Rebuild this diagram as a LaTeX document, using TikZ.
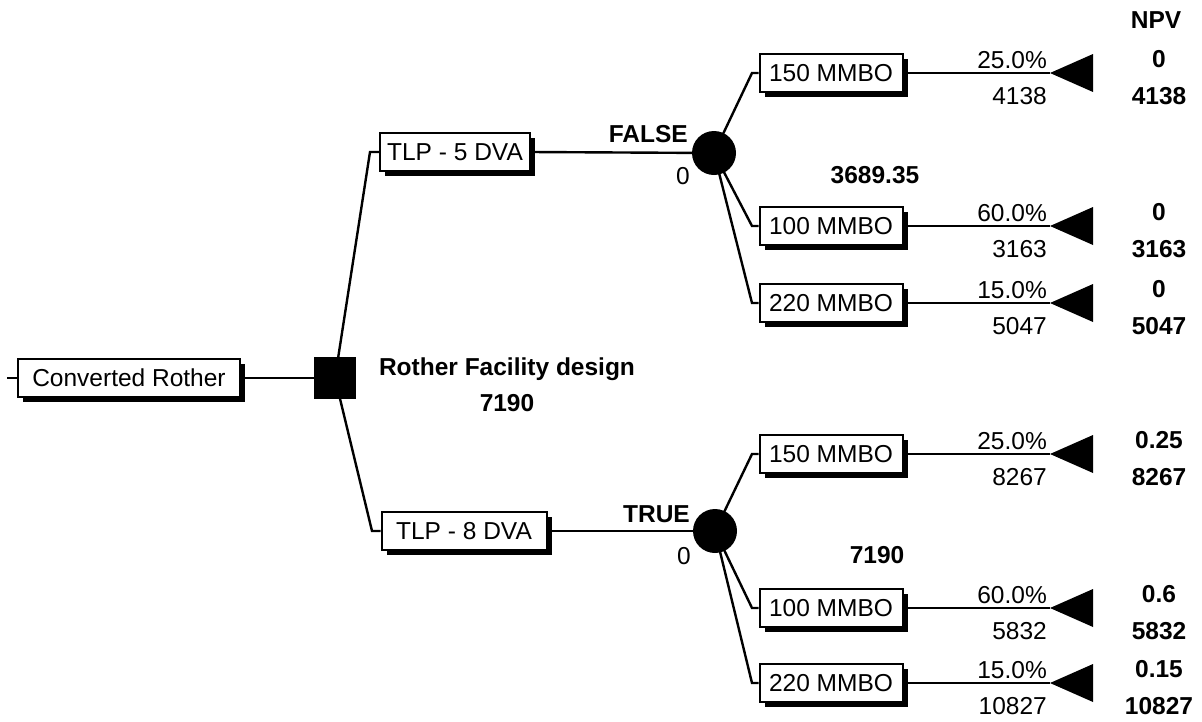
\documentclass[tikz,border=0pt]{standalone}
\usepackage{fontspec}
\setmainfont{Liberation Sans}
\usetikzlibrary{shadows}
\pgfdeclarelayer{bg}
\pgfsetlayers{bg,main}
\begin{document}
\begin{tikzpicture}[x=1pt,y=-1pt,
  every node/.style={font=\fontsize{24.5}{28}\selectfont, inner sep=0pt},
  txt/.style={text height=17.5pt, text depth=0pt},
  bold/.style={txt, font=\fontsize{24.5}{28}\selectfont\bfseries},
  lbl/.style={draw, line width=2pt, fill=white, minimum height=38pt,
    text height=17.5pt, text depth=0pt,
    drop shadow={shadow xshift=5pt, shadow yshift=-5pt, fill=black, opacity=1}},
  link/.style={line width=2.4pt},
  decision/.style={fill=black, minimum size=42pt},
  chance/.style={circle, fill=black, minimum size=44pt},
  endtri/.style={fill=black}]
\useasboundingbox (0,0) rectangle (1202,721);

% root
\coordinate (stub) at (7,378);
\node[lbl, minimum width=222pt] (cr) at (129,378) {Converted Rother};
\node[decision] (dec) at (335,378) {};
\node[bold] (rfd) at (507,367) {Rother Facility design};
\node[bold] (rfdv) at (507,403) {7190};

% decision branches
\coordinate (e5) at (370,152);
\coordinate (e8) at (372,531);
\node[lbl, minimum width=150pt] (t5) at (455,152) {TLP - 5 DVA};
\node[lbl, minimum width=165pt] (t8) at (464,531) {TLP - 8 DVA};
\node[chance] (c1) at (714,153) {};
\node[chance] (c2) at (715,531) {};
\node[bold, anchor=east] (f1) at (688,134) {FALSE};
\node[txt, anchor=east] (f1v) at (690,176) {0};
\node[bold, anchor=east] (f2) at (690,514) {TRUE};
\node[txt, anchor=east] (f2v) at (691,556) {0};
\node[bold] (ev1) at (875,175) {3689.35};
\node[bold] (ev2) at (877,555) {7190};

% outcome boxes
\node[lbl, minimum width=143pt] (b1) at (831,73) {150 MMBO};
\node[lbl, minimum width=143pt] (b2) at (831,226) {100 MMBO};
\node[lbl, minimum width=143pt] (b3) at (831,303) {220 MMBO};
\node[lbl, minimum width=143pt] (b4) at (831,454) {150 MMBO};
\node[lbl, minimum width=143pt] (b5) at (831,608) {100 MMBO};
\node[lbl, minimum width=143pt] (b6) at (831,683) {220 MMBO};

\foreach \i/\y in {1/73,2/226,3/303,4/454,5/608,6/683}{
  \coordinate (k\i) at (752,\y);
  \coordinate (tri\i) at (1050,\y);
  \fill[endtri] (tri\i) -- ++(43,-19) -- ++(0,38) -- cycle;
}

% probabilities and values
\foreach \i/\y/\p/\v/\q in {1/73/25.0\%/4138/0, 2/226/60.0\%/3163/0, 3/303/15.0\%/5047/0,
  4/454/25.0\%/8267/0.25, 5/608/60.0\%/5832/0.6, 6/683/15.0\%/10827/0.15}{
  \node[txt, anchor=east] (p\i) at (1047,\y-13) {\p};
  \node[txt, anchor=east] (v\i) at (1047,\y+23) {\v};
  \node[bold] (q\i) at (1159,\y-14) {\q};
  \node[bold] (n\i) at (1159,\y+23) {\v};
}
\node[bold] (npv) at (1156,20) {NPV};

% connectors
\begin{pgfonlayer}{bg}
\draw[link] (stub) -- (cr.west);
\draw[link] (cr.east) -- (dec.center);
\draw[link] (dec.center) -- (e5) -- (t5.west);
\draw[link] (dec.center) -- (e8) -- (t8.west);
\draw[link] (t5.east) -- (c1.center);
\draw[link] (t8.east) -- (c2.center);
\draw[link] (c1.center) -- (k1) -- (b1.west);
\draw[link] (c1.center) -- (k2) -- (b2.west);
\draw[link] (c1.center) -- (k3) -- (b3.west);
\draw[link] (c2.center) -- (k4) -- (b4.west);
\draw[link] (c2.center) -- (k5) -- (b5.west);
\draw[link] (c2.center) -- (k6) -- (b6.west);
\foreach \i in {1,...,6}{
  \draw[link] (b\i.east) -- (tri\i);
}
\end{pgfonlayer}
\end{tikzpicture}
\end{document}
